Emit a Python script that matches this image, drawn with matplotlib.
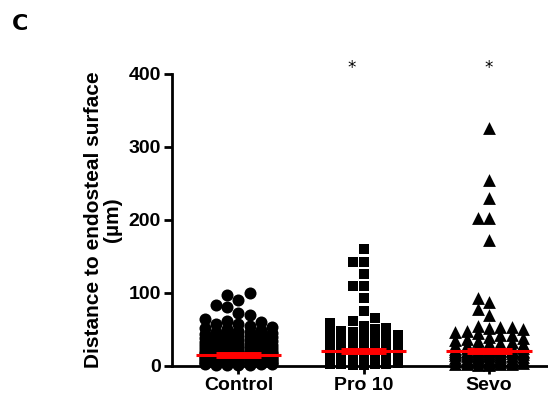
import numpy as np
import matplotlib
matplotlib.use('Agg')
import matplotlib.pyplot as plt

############################## Data ############################################
groups = ['Control', 'Pro 10', 'Sevo']
markers = ['o', 's', '^']
medians = [15, 21, 20]
stars = ['', '*', '*']

control = [100, 97, 90, 83, 81, 72, 70, 64, 62, 60, 58, 57, 55, 54, 52, 50,
           49, 48, 47, 46, 45, 44, 43, 42, 41, 40, 39, 38, 37, 36, 35, 35,
           34, 33, 32, 31, 30, 30, 29, 28, 27, 27, 26, 25, 25, 24, 23, 23,
           22, 22, 21, 21, 20, 20, 19, 19, 18, 18, 18, 17, 17, 17, 16, 16,
           16, 15, 15, 15, 15, 14, 14, 14, 14, 13, 13, 13, 13, 12, 12, 12,
           12, 11, 11, 11, 11, 10, 10, 10, 10, 9, 9, 9, 9, 8, 8, 8, 8, 7, 7,
           7, 7, 6, 6, 6, 6, 5, 5, 5, 5, 4, 4, 4, 4, 3, 3, 3, 3, 2, 2, 2, 2,
           1, 1, 1, 1, 44, 38, 33, 29, 26, 24, 21, 19, 17]
pro10 = [160, 143, 143, 126, 109, 109, 93, 75, 66, 62, 59, 55, 52, 50, 48,
         46, 45, 43, 41, 40, 38, 37, 36, 35, 34, 33, 32, 31, 30, 30, 29, 28,
         28, 27, 27, 26, 26, 25, 25, 24, 24, 23, 23, 22, 22, 22, 21, 21, 21,
         20, 20, 20, 19, 19, 19, 18, 18, 18, 17, 17, 16, 16, 15, 15, 14, 14,
         13, 13, 12, 12, 11, 11, 10, 10, 9, 9, 8, 8, 7, 7, 6, 6, 5, 5, 4, 4,
         3, 3, 2, 2, 1, 1, 23, 21, 19, 24, 20, 18]
sevo = [326, 255, 230, 203, 203, 173, 93, 88, 78, 70, 55, 54, 53, 52, 50,
        48, 46, 45, 43, 42, 40, 38, 37, 35, 34, 33, 32, 31, 30, 29, 28, 27,
        26, 25, 25, 24, 24, 23, 23, 22, 22, 21, 21, 20, 20, 20, 19, 19, 19,
        18, 18, 17, 17, 16, 16, 15, 15, 14, 14, 13, 13, 12, 12, 11, 11, 10,
        10, 9, 9, 8, 8, 7, 7, 6, 6, 5, 5, 4, 4, 3, 3, 2, 2, 1, 1, 22, 19,
        21, 18, 20]
data = [control, pro10, sevo]

############################## Functions #######################################
def swarm_offsets(vals, step=0.09, nmax=3, d=10.0, xscale=125.5, yscale=0.73):
    # beeswarm in pixel space, capped width; crowded points go where
    # they overlap the least
    order = np.argsort(vals)
    slots = [0]
    for k in range(1, nmax + 1):
        slots += [-k, k]
    placed = []
    offs = np.zeros(len(vals))
    for i in order:
        y = vals[i] * yscale
        best, best_d = 0, -1.0
        for k in slots:
            x = k * step * xscale
            md = 1e9
            for px, py in placed:
                if abs(py - y) < d:
                    md = min(md, np.hypot(px - x, py - y))
            if md >= d:
                best = k
                break
            if md > best_d + 0.5:
                best, best_d = k, md
        placed.append((best * step * xscale, y))
        offs[i] = best * step
    return offs

############################## Plot ############################################
plt.rcParams['font.family'] = ['Liberation Sans', 'DejaVu Sans']
fig = plt.figure(figsize=(5.48, 4.03), dpi=100)
ax = fig.add_axes([0.314, 0.092, 0.686, 0.7246])

sizes = [75, 62, 85]
for i, vals in enumerate(data):
    vals = np.array(vals, dtype=float)
    x = i + swarm_offsets(vals)
    ax.scatter(x, vals, marker=markers[i], s=sizes[i], color='black',
               linewidths=0, clip_on=False, zorder=2)
    ax.plot([i - 0.34, i + 0.34], [medians[i]] * 2, color='red', lw=2.2,
            zorder=3, solid_capstyle='butt')
    ax.plot([i - 0.18, i + 0.18], [medians[i]] * 2, color='red', lw=5,
            zorder=3, solid_capstyle='butt')
    if stars[i]:
        ax.text(i - (0.1 if i == 1 else 0), 408, stars[i], ha='center',
                va='center', fontsize=12, family='DejaVu Sans',
                clip_on=False)

## axis styling
ax.set_xlim(-0.53, 2.47)
ax.set_ylim(0, 400)
ax.set_yticks([0, 100, 200, 300, 400])
ax.set_xticks(range(len(groups)))
ax.set_xticklabels(groups, fontsize=14, fontweight='bold')
for lab in ax.get_yticklabels():
    lab.set_fontsize(14)
    lab.set_fontweight('bold')
ax.spines['right'].set_visible(False)
ax.spines['top'].set_visible(False)
ax.spines['left'].set_linewidth(2)
ax.spines['bottom'].set_linewidth(2)
ax.tick_params(axis='both', width=2, length=6, direction='out', pad=2)
ax.set_ylabel('Distance to endosteal surface\n(µm)', fontsize=15,
              fontweight='bold', labelpad=5, linespacing=1.0)

fig.text(0.022, 0.925, 'C', fontsize=16, fontweight='bold',
         family='DejaVu Sans')

plt.savefig('out.png', dpi=100)
